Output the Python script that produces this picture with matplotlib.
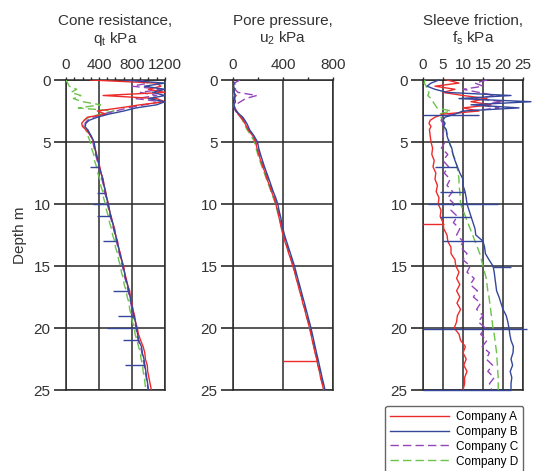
import matplotlib
matplotlib.use("Agg")
import matplotlib.pyplot as plt
from matplotlib.ticker import MultipleLocator

plt.rcParams["font.family"] = ["Liberation Sans", "DejaVu Sans"]
plt.rcParams["mathtext.fontset"] = "custom"
plt.rcParams["mathtext.rm"] = "Liberation Sans"
plt.rcParams["mathtext.it"] = "Liberation Sans:italic"

# depth samples (m)
depth = [0, 0.25, 0.5, 0.75, 1.0, 1.25, 1.5, 1.75, 2.0, 2.25, 2.5, 2.75, 3.0, 3.25, 3.5, 3.75, 4.0,
         4.5, 5.0, 5.5, 6.0, 6.5, 7.0, 7.5, 8.0, 8.5, 9.0, 9.5, 10.0, 10.5, 11.0, 11.5, 12.0,
         12.5, 13.0, 13.5, 14.0, 14.5, 15.0, 15.5, 16.0, 16.5, 17.0, 17.5, 18.0, 18.5, 19.0,
         19.5, 20.0, 20.5, 21.0, 21.5, 22.0, 22.5, 23.0, 23.5, 24.0, 24.5, 25.0]

companies = ["Company A", "Company B", "Company C", "Company D"]

# cone resistance qt (kPa)
qt_a = [300, 1100, 1150, 1000, 1200, 450, 1100, 1200, 900, 650, 380, 480, 260, 220, 190, 200, 240,
        300, 335, 350, 372, 385, 410, 425, 450, 462, 480, 495, 515, 525, 548, 565, 590,
        600, 625, 635, 660, 672, 700, 708, 730, 745, 772, 780, 800, 810, 832,
        842, 865, 878, 905, 935, 955, 962, 985, 990, 1005, 1020, 1035]
qt_b = [700, 1200, 950, 1200, 1050, 1200, 1000, 1200, 1100, 850, 700, 520, 380, 280, 240, 230, 260,
        305, 340, 352, 365, 390, 402, 425, 445, 460, 478, 492, 510, 528, 542, 565, 582,
        602, 618, 638, 652, 676, 690, 710, 722, 745, 762, 778, 792, 810, 822,
        842, 855, 868, 880, 915, 925, 945, 955, 968, 978, 990, 1000]
qt_c = [900, 1000, 800, 1150, 900, 1100, 850, 1150, 950, 750, 600, 450, 330, 260, 230, 240, 265,
        295, 325, 342, 358, 378, 395, 418, 435, 455, 465, 488, 500, 520, 535, 558, 575,
        596, 610, 630, 645, 668, 682, 702, 715, 738, 752, 772, 785, 802, 815,
        835, 848, 862, 875, 905, 920, 935, 948, 960, 972, 985, 995]
qt_d = [0, 20, 40, 130, 60, 180, 90, 200, 420, 150, 580, 420, 280, 220, 200, 215, 240,
        265, 295, 310, 335, 345, 370, 385, 410, 420, 445, 455, 478, 490, 515, 528, 552,
        565, 590, 600, 625, 638, 660, 672, 695, 705, 730, 742, 765, 772, 795,
        805, 828, 838, 860, 880, 900, 910, 928, 935, 950, 958, 968]
# blue spikes in qt: depth, from, to
qt_spike_d = [7.0, 9.1, 10.0, 11.0, 13.0, 17.0, 19.0, 20.0, 21.0, 23.0]
qt_spike_from = [402, 478, 510, 542, 618, 762, 822, 855, 880, 955]
qt_spike_to = [290, 375, 330, 375, 450, 573, 633, 495, 692, 715]

# pore pressure u2 (kPa)
u2_a = [0, 5, 0, 12, 5, 25, 8, 20, 0, 15, 30, 40, 60, 80, 95, 108, 120,
        158, 180, 192, 205, 222, 238, 258, 272, 292, 308, 328, 342, 356, 366, 378, 388,
        400, 414, 432, 446, 464, 478, 494, 505, 520, 532, 548, 558, 574, 585,
        600, 612, 624, 634, 646, 656, 670, 678, 692, 700, 714, 724]
u2_b = [0, 8, 5, 10, 10, 15, 12, 18, 8, 12, 25, 50, 78, 95, 110, 122, 132,
        168, 196, 206, 220, 236, 252, 270, 288, 305, 322, 342, 358, 368, 380, 390, 400,
        412, 428, 444, 460, 476, 492, 505, 518, 532, 545, 558, 572, 585, 598,
        611, 624, 635, 646, 657, 668, 680, 691, 702, 713, 725, 736]
u2_c = [55, 10, 30, 15, 40, 190, 100, 60, 20, 10, 20, 45, 72, 88, 102, 114, 125,
        160, 188, 198, 212, 228, 245, 262, 280, 298, 315, 333, 350, 360, 372, 382, 393,
        405, 420, 436, 452, 468, 483, 497, 510, 524, 537, 550, 563, 577, 590,
        603, 616, 627, 638, 649, 660, 672, 683, 694, 705, 717, 728]
u2_d = [0, 0, 5, 5, 10, 5, 15, 10, 5, 15, 20, 40, 62, 76, 88, 100, 112,
        146, 172, 184, 198, 214, 232, 250, 268, 286, 304, 322, 340, 352, 366, 378, 390,
        402, 418, 434, 450, 466, 481, 495, 508, 522, 535, 548, 561, 575, 588,
        601, 614, 625, 636, 647, 658, 670, 681, 692, 703, 715, 726]
u2_spike_d = [22.66]
u2_spike_from = [672]
u2_spike_to = [400]

# sleeve friction fs (kPa)
fs_a = [6, 9, 3, 8, 5, 10, 16, 12, 17, 10, 14, 5, 3, 1.8, 1.5, 2.0, 1.6,
        1.8, 2.0, 2.4, 2.2, 2.8, 2.5, 3.2, 3.0, 3.6, 3.3, 4.0, 3.8, 4.5, 4.3, 5.0, 5.2,
        6.0, 6.2, 7.0, 7.0, 8.0, 8.2, 9.0, 8.4, 9.2, 8.4, 9.2, 8.5, 9.4, 8.6,
        8.4, 7.8, 9.0, 9.4, 10.6, 10.0, 10.8, 10.2, 11.0, 10.4, 10.4, 10.0]
fs_b = [4, 2, 1, 3, 6, 22, 9, 27, 12, 24, 10, 8, 5.5, 5.0, 5.5, 5.2, 5.8,
        6.0, 6.5, 7.2, 7.5, 8.0, 8.6, 9.2, 10.0, 10.0, 10.5, 10.8, 11.0, 11.5, 12.0, 12.5, 13.0,
        13.2, 15.0, 15.4, 15.6, 16.5, 17.5, 17.8, 18.0, 18.2, 18.4, 19.0, 19.5, 20.0, 20.8,
        21.2, 21.5, 21.7, 22.0, 22.6, 22.5, 22.0, 22.4, 21.8, 22.2, 22.0, 22.0]
fs_c = [16, 13, 15, 10, 14, 18, 13, 20, 14, 19, 12, 7, 5.0, 4.5, 5.0, 4.8, 5.2,
        5.0, 5.5, 4.6, 6.2, 5.0, 6.4, 5.3, 6.8, 6.0, 7.4, 6.2, 7.8, 7.0, 8.6, 7.6, 9.2,
        8.4, 10.0, 9.4, 11.0, 10.0, 11.8, 11.0, 12.8, 11.8, 13.6, 12.6, 14.4, 13.4, 15.0,
        13.8, 15.6, 14.4, 16.0, 14.8, 16.6, 15.8, 17.4, 16.2, 17.8, 16.6, 17.2]
fs_d = [0.5, 0.3, 0.8, 1.0, 1.5, 1.2, 2.0, 2.5, 3.0, 3.5, 7.0, 4.0, 4.5, 5.0, 5.5, 5.2, 5.8,
        6.2, 6.6, 7.0, 7.5, 8.2, 8.5, 8.8, 9.0, 9.0, 9.2, 9.3, 9.4, 10.0, 10.6, 11.2, 11.8,
        12.4, 13.0, 13.6, 14.2, 14.6, 15.0, 15.4, 15.8, 16.0, 16.2, 16.5, 16.7, 16.9, 17.1,
        17.3, 17.5, 17.8, 18.0, 18.2, 18.4, 18.5, 18.6, 18.7, 18.8, 18.8, 18.8]
fs_spike_d = [2.85, 7.0, 9.05, 10.0, 11.07, 13.0, 15.1, 20.05, 25.0]
fs_spike_from = [0, 3, 4.2, 1.3, 4.2, 5, 17.5, 0, 0]
fs_spike_to = [14, 8.6, 10.5, 18.8, 12, 15, 22, 26, 22]
fs_a_spike_d = [11.65]
fs_a_spike_from = [0]
fs_a_spike_to = [5.2]

colors = ["#ee2b2b", "#34479b", "#9445b8", "#6cc24a"]
styles = ["-", "-", (0, (6, 3)), (0, (6, 3))]
draw_order = [3, 2, 0, 1]

grid_c = "#2a2a2a"
txt_c = "#333333"

fig = plt.figure(figsize=(5.33, 4.71), dpi=100)
W, H = 533, 471
panels = [
    dict(x0=66, x1=165, data=[qt_a, qt_b, qt_c, qt_d], xmax=1200, major=400, minor=100,
         t1="Cone resistance,", t2=r"q$_{\mathrm{t}}$ kPa"),
    dict(x0=233, x1=333, data=[u2_a, u2_b, u2_c, u2_d], xmax=800, major=400, minor=200,
         t1="Pore pressure,", t2=r"u$_{2}$ kPa"),
    dict(x0=423, x1=523, data=[fs_a, fs_b, fs_c, fs_d], xmax=25, major=5, minor=5,
         t1="Sleeve friction,", t2=r"f$_{\mathrm{s}}$ kPa"),
]
y_top, y_bot = 80, 390

axes = []
handles = [None] * 4
for k, p in enumerate(panels):
    ax = fig.add_axes([p["x0"] / W, 1 - y_bot / H, (p["x1"] - p["x0"]) / W, (y_bot - y_top) / H])
    axes.append(ax)
    for i in draw_order:
        ln, = ax.plot(p["data"][i], depth, color=colors[i], linestyle=styles[i], lw=1.0,
                      clip_on=(k != 2), zorder=3, label=companies[i])
        handles[i] = ln
    ax.set_xlim(0, p["xmax"])
    ax.set_ylim(25, 0)
    ax.xaxis.set_major_locator(MultipleLocator(p["major"]))
    ax.xaxis.set_minor_locator(MultipleLocator(p["minor"]))
    ax.yaxis.set_major_locator(MultipleLocator(5))
    ax.xaxis.tick_top()
    ax.tick_params(axis="x", which="both", direction="out", length=2.5, width=1,
                   color=grid_c, labelsize=11, labelcolor=txt_c, pad=3)
    ax.tick_params(axis="y", which="major", direction="out", length=9, width=1.2,
                   color=grid_c, labelsize=11, labelcolor=txt_c, pad=2)
    ax.grid(True, which="major", color=grid_c, lw=1.1)
    ax.set_axisbelow(True)
    for s in ax.spines.values():
        s.set_color(grid_c)
        s.set_linewidth(1.1)
    ax.text(0.5, 1 + 55 / 310, p["t1"], transform=ax.transAxes, ha="center",
            va="baseline", fontsize=11, color=txt_c)
    ax.text(0.5, 1 + 37 / 310, p["t2"], transform=ax.transAxes, ha="center",
            va="baseline", fontsize=11, color=txt_c)

# spikes
axes[0].hlines(qt_spike_d, qt_spike_from, qt_spike_to, color=colors[1], lw=1.0, zorder=3)
axes[1].hlines(u2_spike_d, u2_spike_from, u2_spike_to, color=colors[0], lw=1.0, zorder=3)
axes[2].hlines(fs_spike_d, fs_spike_from, fs_spike_to, color=colors[1], lw=1.0, zorder=3,
               clip_on=False)
axes[2].hlines(fs_a_spike_d, fs_a_spike_from, fs_a_spike_to, color=colors[0], lw=1.0,
               zorder=3, clip_on=False)

axes[0].set_ylabel("Depth m", fontsize=11, color=txt_c, labelpad=5)

fig.legend(handles, companies, loc="upper right", bbox_to_anchor=(523 / W, 1 - 406 / H),
           borderaxespad=0, fontsize=8.5, handlelength=5.0, handletextpad=0.6,
           labelspacing=0.25, frameon=True, fancybox=True, edgecolor="#666666",
           framealpha=1, borderpad=0.4)

fig.savefig("out.png", dpi=100)
